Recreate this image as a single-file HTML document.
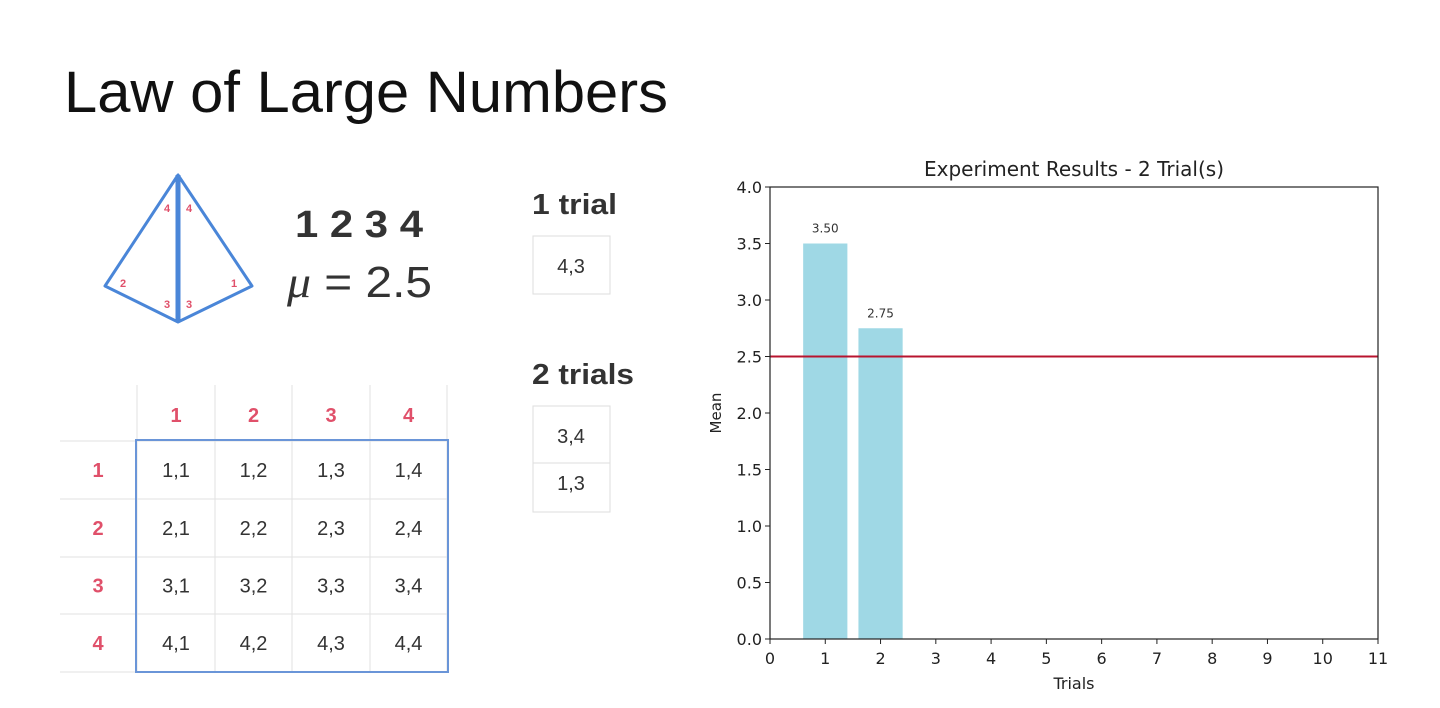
<!DOCTYPE html>
<html><head><meta charset="utf-8"><style>
body{margin:0;width:1440px;height:708px;background:#fff;overflow:hidden;font-family:"Liberation Sans",sans-serif}
svg{position:absolute;left:0;top:0}
</style></head><body>
<svg id="s" width="1440" height="708" xmlns="http://www.w3.org/2000/svg">
<text x="64" y="112" font-size="58" fill="#111" textLength="604" lengthAdjust="spacingAndGlyphs">Law of Large Numbers</text>
<g stroke="#4a86d8" stroke-width="3" fill="none" stroke-linejoin="round">
<path d="M178,175 L105,286 L178,322 L252,286 Z"/>
<line x1="178" y1="175" x2="178" y2="322" stroke-width="5"/>
</g>
<g fill="#e0506a" font-size="11" font-weight="bold">
<text x="164" y="212">4</text><text x="186" y="212">4</text><text x="120" y="287">2</text><text x="231" y="287">1</text><text x="164" y="308">3</text><text x="186" y="308">3</text>
</g>
<text x="295" y="237" font-size="38" font-weight="bold" fill="#333" textLength="128" lengthAdjust="spacingAndGlyphs">1 2 3 4</text>
<text x="287" y="297" font-size="44" fill="#333" textLength="145" lengthAdjust="spacingAndGlyphs"><tspan font-style="italic" font-family="Liberation Serif">μ</tspan> = 2.5</text>
<text x="532" y="214" font-size="29" font-weight="bold" fill="#333" textLength="85" lengthAdjust="spacingAndGlyphs">1 trial</text>
<rect x="533" y="236" width="77" height="58" fill="none" stroke="#ddd"/>
<text x="571" y="273" font-size="20" fill="#333" text-anchor="middle">4,3</text>
<text x="532" y="384" font-size="29" font-weight="bold" fill="#333" textLength="102" lengthAdjust="spacingAndGlyphs">2 trials</text>
<rect x="533" y="406" width="77" height="106" fill="none" stroke="#ddd"/>
<line x1="533" y1="463" x2="610" y2="463" stroke="#ddd"/>
<text x="571" y="443" font-size="20" fill="#333" text-anchor="middle">3,4</text>
<text x="571" y="490" font-size="20" fill="#333" text-anchor="middle">1,3</text>
<g id="tbl"></g>
<g id="chart"></g>
</svg>
<script>
const NS="http://www.w3.org/2000/svg";
function mk(p,t,a,txt){const e=document.createElementNS(NS,t);for(const k in a)e.setAttribute(k,a[k]);if(txt!==undefined)e.textContent=txt;p.appendChild(e);return e;}
// table
const tbl=document.getElementById('tbl');
const cx=[137,215,292,370,447], ry=[441,499,557,614,672];
cx.forEach(x=>mk(tbl,'line',{x1:x,y1:385,x2:x,y2:672,stroke:'#e2e2e2'}));
ry.forEach(y=>mk(tbl,'line',{x1:60,y1:y,x2:447,y2:y,stroke:'#e2e2e2'}));
for(let i=0;i<4;i++){
 const h=mk(tbl,'text',{x:(cx[i]+cx[i+1])/2,y:422,'font-size':20,'font-weight':'bold',fill:'#e0506a','text-anchor':'middle'},String(i+1));
 
 const r=mk(tbl,'text',{x:98,y:(ry[i]+ry[i+1])/2+7,'font-size':20,'font-weight':'bold',fill:'#e0506a','text-anchor':'middle'},String(i+1));
 
 for(let j=0;j<4;j++){
  const c=mk(tbl,'text',{x:(cx[j]+cx[j+1])/2,y:(ry[i]+ry[i+1])/2+7,'font-size':20,fill:'#333','text-anchor':'middle'},(i+1)+','+(j+1));
  
 }
}
mk(tbl,'rect',{x:136,y:440,width:312,height:232,fill:'none',stroke:'#6a95d8','stroke-width':2});
// chart
const trials=[1,2];
const means=[3.50,2.75];
const labels=["3.50","2.75"];
const yTicks=[0,0.5,1,1.5,2,2.5,3,3.5,4];
const xTicks=[0,1,2,3,4,5,6,7,8,9,10,11];
const trueMean=2.5;
const L=770,R=1378,T=187,B=639;
const xs=v=>L+(v-0)/(11-0)*(R-L), ys=v=>B-(v/4)*(B-T);
const ch=document.getElementById('chart');
const F='"DejaVu Sans",sans-serif';
trials.forEach((t,i)=>{
 const b=mk(ch,'rect',{x:xs(t-0.4),y:ys(means[i]),width:xs(t+0.4)-xs(t-0.4),height:B-ys(means[i]),fill:'#9fd8e5'});
 
 const l=mk(ch,'text',{x:xs(t),y:ys(means[i])-11,'font-size':12,'font-family':F,fill:'#333','text-anchor':'middle'},labels[i]);
 
});
const ml=mk(ch,'line',{x1:L,x2:R,y1:ys(trueMean),y2:ys(trueMean),stroke:'#b8142f','stroke-width':2});

mk(ch,'rect',{x:L,y:T,width:R-L,height:B-T,fill:'none',stroke:'#222','stroke-width':1.2});
yTicks.forEach(v=>{mk(ch,'line',{x1:L-5,x2:L,y1:ys(v),y2:ys(v),stroke:'#222'});
 const t=mk(ch,'text',{x:L-8,y:ys(v)+6,'font-size':16,'font-family':F,fill:'#222','text-anchor':'end'},v.toFixed(1));
 });
xTicks.forEach(v=>{mk(ch,'line',{x1:xs(v),x2:xs(v),y1:B,y2:B+5,stroke:'#222'});
 const t=mk(ch,'text',{x:xs(v),y:B+25,'font-size':16,'font-family':F,fill:'#222','text-anchor':'middle'},String(v));
 });
const xt=mk(ch,'text',{x:(L+R)/2,y:689,'font-size':16,'font-family':F,fill:'#222','text-anchor':'middle'},'Trials');

const yt=mk(ch,'text',{x:0,y:0,'font-size':15,'font-family':F,fill:'#222','text-anchor':'middle',transform:'translate(721,413) rotate(-90)'},'Mean');

const ct=mk(ch,'text',{x:(L+R)/2,y:176,'font-size':20,'font-family':F,fill:'#222','text-anchor':'middle'},'Experiment Results - 2 Trial(s)');

</script>
</body></html>
